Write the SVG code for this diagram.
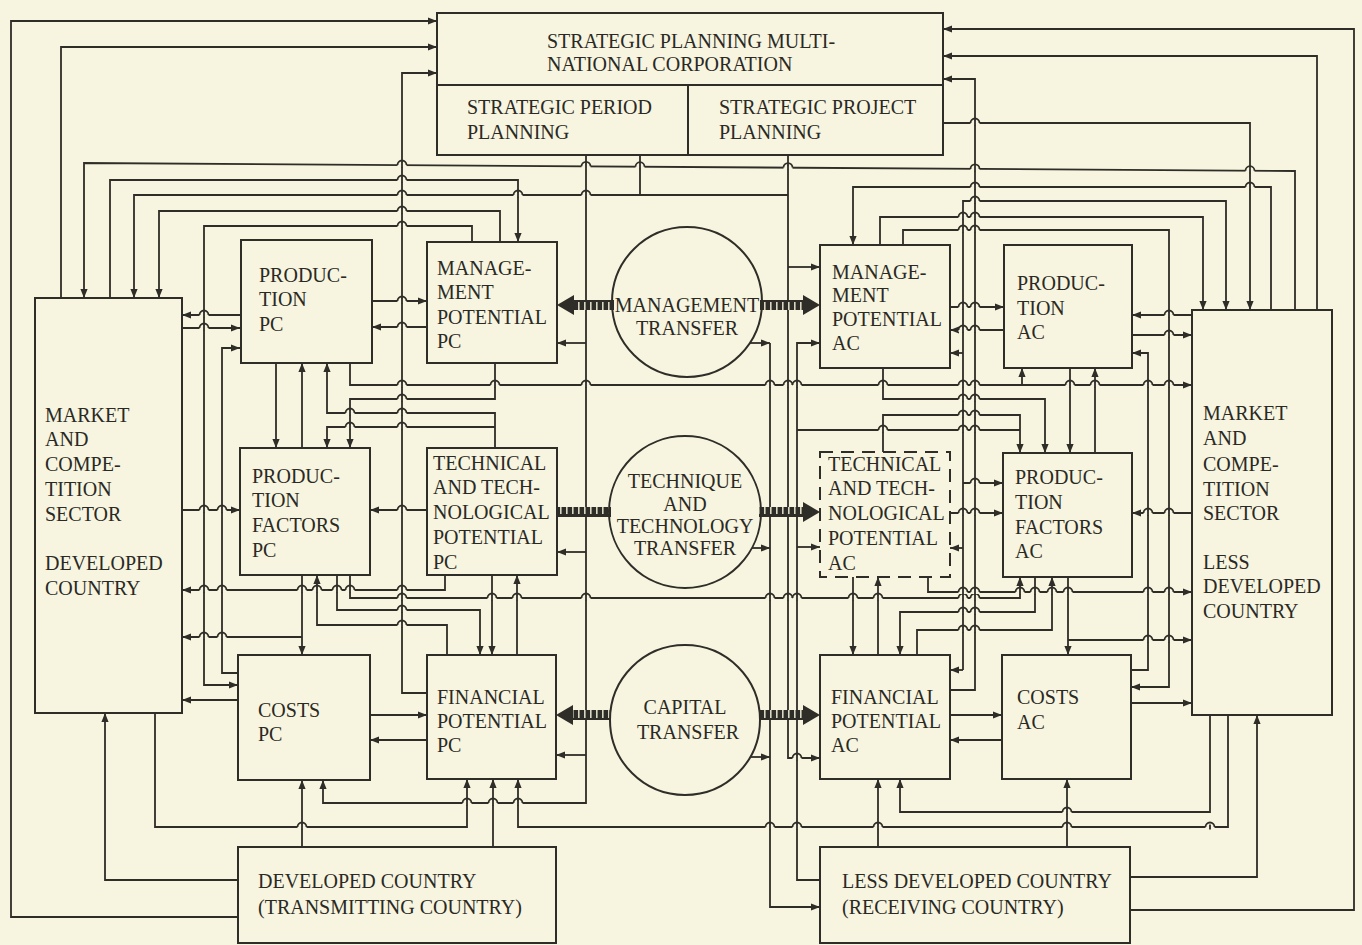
<svg xmlns="http://www.w3.org/2000/svg" width="1362" height="945" viewBox="0 0 1362 945">
<defs>
<style>
.bx{fill:none;stroke:#2e2d27;stroke-width:2}
.t{font-family:"Liberation Serif","Times New Roman",serif;font-size:20px;fill:#2a2924}
.tc{text-anchor:middle}
.c{fill:none;stroke:#2e2d27;stroke-width:1.8}
.a{marker-end:url(#ah)}
</style>
<marker id="ah" viewBox="0 0 10 10" refX="10" refY="5" markerWidth="9" markerHeight="9" markerUnits="userSpaceOnUse" orient="auto"><path d="M0,1 L10,5 L0,9 z" fill="#2e2d27"/></marker>
<pattern id="hatch" width="6" height="12" patternUnits="userSpaceOnUse"><rect width="6" height="12" fill="#2e2d27"/><rect x="2" y="2" width="1.6" height="8" fill="#d9d7c2"/></pattern>
<g id="hop"><rect x="-4.5" y="-2" width="9" height="4" fill="#f7f5e0"/><path d="M0,-2.5 V2.5 M-4.5,0 A4.5,4.5 0 0 1 4.5,0" fill="none" stroke="#2e2d27" stroke-width="1.8"/></g>
</defs>
<rect width="1362" height="945" fill="#f7f5e0"/>

<g id="connectors">
<!-- left half -->
<path class="c a" d="M238,917 H11 V21 H437"/>
<path class="c a" d="M61,298 V47 H437"/>
<path class="c a" d="M427,693 H402 V73 H437"/>
<path class="c a" d="M1295,310 V171 L84,163 V298"/>
<path class="c a" d="M110,298 V180 H518 V242"/>
<path class="c a" d="M640,155 V195 H134 V298"/>
<path class="c" d="M640,195 H788"/>
<path class="c a" d="M500,242 V211 H159 V298"/>
<path class="c a" d="M472,242 V226 H204 V685 H238"/>
<path class="c a" d="M240,315 H182"/>
<path class="c a" d="M182,328 H240"/>
<path class="c a" d="M238,673 H222 V348 H240"/>
<path class="c a" d="M372,301 H427"/>
<path class="c a" d="M427,327 H372"/>
<path class="c a" d="M276,363 V448"/>
<path class="c a" d="M302,448 V363"/>
<path class="c a" d="M495,448 V413 H327 V363"/>
<path class="c a" d="M495,427 H327 V448"/>
<path class="c a" d="M350,363 V385 H1192"/>
<path class="c a" d="M1022,385 V368"/>
<path class="c a" d="M495,363 V399 H350 V448"/>
<path class="c a" d="M182,510 H240"/>
<path class="c a" d="M427,510 H370"/>
<path class="c a" d="M302,575 V655"/>
<path class="c a" d="M302,637 H182"/>
<path class="c a" d="M337,575 V610 H480 V655"/>
<path class="c a" d="M447,655 V625 H317 V575"/>
<path class="c a" d="M350,575 V598 H1020 V577"/>
<path class="c a" d="M445,575 V590 H182"/>
<path class="c a" d="M492,575 V655"/>
<path class="c a" d="M517,655 V575"/>
<path class="c a" d="M370,715 H427"/>
<path class="c a" d="M427,740 H370"/>
<path class="c a" d="M238,700 H182"/>
<path class="c a" d="M155,713 V827 H467 V779"/>
<path class="c a" d="M302,847 V780"/>
<path class="c a" d="M586,155 V803 H323 V780"/>
<path class="c a" d="M586,343 H557"/>
<path class="c a" d="M586,552 H557"/>
<path class="c a" d="M586,755 H556"/>
<path class="c a" d="M493,847 V779"/>
<path class="c a" d="M1228,715 V827 H518 V779"/>
<path class="c a" d="M238,880 H105 V713"/>
<!-- right half -->
<path class="c a" d="M1130,910 H1354 V29 H943"/>
<path class="c a" d="M1317,310 V56 H943"/>
<path class="c a" d="M950,690 H975 V79 H943"/>
<path class="c a" d="M943,123 H1250 V310"/>
<path class="c a" d="M1271,310 V187 H853 V245"/>
<path class="c a" d="M963,670 V201 H1226 V310"/>
<path class="c a" d="M963,353 H950"/>
<path class="c a" d="M963,548 H950"/>
<path class="c a" d="M963,670 H950"/>
<path class="c a" d="M963,483 H1003"/>
<path class="c a" d="M880,245 V217 H1203 V310"/>
<path class="c a" d="M903,245 V230 H1169 V687 H1131"/>
<path class="c a" d="M788,155 V758 H820"/>
<path class="c a" d="M788,267 H820"/>
<path class="c a" d="M820,880 H797 V343 H820"/>
<path class="c a" d="M797,547 H820"/>
<path class="c a" d="M770,343 V907 H820"/>
<path class="c a" d="M750,343 H770"/>
<path class="c a" d="M752,548 H770"/>
<path class="c a" d="M750,757 H770"/>
<path class="c a" d="M950,307 H1004"/>
<path class="c a" d="M1004,330 H950"/>
<path class="c a" d="M1192,315 H1132"/>
<path class="c a" d="M1132,335 H1192"/>
<path class="c a" d="M1131,670 H1148 V353 H1132"/>
<path class="c a" d="M1070,368 V453"/>
<path class="c a" d="M1095,453 V368"/>
<path class="c a" d="M883,368 V399 H1045 V453"/>
<path class="c a" d="M883,452 V415 H1020 V453"/>
<path class="c" d="M797,430 H1020"/>
<path class="c a" d="M950,513 H1003"/>
<path class="c a" d="M1192,513 H1132"/>
<path class="c a" d="M928,577 V592 H1192"/>
<path class="c a" d="M1068,577 V655"/>
<path class="c a" d="M1068,640 H1192"/>
<path class="c a" d="M1035,577 V612 H900 V655"/>
<path class="c a" d="M917,655 V630 H1052 V577"/>
<path class="c a" d="M853,577 V655"/>
<path class="c a" d="M878,655 V577"/>
<path class="c a" d="M950,715 H1002"/>
<path class="c a" d="M1002,740 H950"/>
<path class="c a" d="M1131,703 H1192"/>
<path class="c a" d="M1067,847 V779"/>
<path class="c a" d="M878,847 V779"/>
<path class="c a" d="M1210,715 V812 H900 V779"/>
<path class="c a" d="M1130,877 H1257 V715"/>
<!-- line hops at crossings -->
<use href="#hop" x="402" y="165"/><use href="#hop" x="402" y="180"/><use href="#hop" x="402" y="195"/><use href="#hop" x="402" y="211"/><use href="#hop" x="402" y="226"/>
<use href="#hop" x="518" y="195"/><use href="#hop" x="586" y="195"/>
<use href="#hop" x="586" y="166.3"/><use href="#hop" x="640" y="166.7"/><use href="#hop" x="788" y="167.6"/><use href="#hop" x="975" y="168.9"/><use href="#hop" x="1250" y="170.7"/>
<use href="#hop" x="204" y="315"/><use href="#hop" x="204" y="328"/><use href="#hop" x="402" y="301"/><use href="#hop" x="402" y="327"/>
<use href="#hop" x="402" y="399"/><use href="#hop" x="350" y="413"/><use href="#hop" x="402" y="413"/><use href="#hop" x="350" y="427"/><use href="#hop" x="402" y="427"/>
<use href="#hop" x="204" y="510"/><use href="#hop" x="222" y="510"/><use href="#hop" x="402" y="510"/>
<use href="#hop" x="204" y="590"/><use href="#hop" x="222" y="590"/><use href="#hop" x="302" y="590"/><use href="#hop" x="317" y="590"/><use href="#hop" x="337" y="590"/><use href="#hop" x="350" y="590"/><use href="#hop" x="402" y="590"/>
<use href="#hop" x="402" y="598"/><use href="#hop" x="492" y="598"/><use href="#hop" x="517" y="598"/><use href="#hop" x="586" y="598"/><use href="#hop" x="770" y="598"/><use href="#hop" x="788" y="598"/><use href="#hop" x="797" y="598"/><use href="#hop" x="853" y="598"/><use href="#hop" x="878" y="598"/><use href="#hop" x="963" y="598"/><use href="#hop" x="975" y="598"/>
<use href="#hop" x="402" y="610"/><use href="#hop" x="402" y="625"/><use href="#hop" x="204" y="637"/><use href="#hop" x="222" y="637"/>
<use href="#hop" x="402" y="385"/><use href="#hop" x="495" y="385"/><use href="#hop" x="586" y="385"/><use href="#hop" x="770" y="385"/><use href="#hop" x="788" y="385"/><use href="#hop" x="797" y="385"/><use href="#hop" x="883" y="385"/><use href="#hop" x="963" y="385"/><use href="#hop" x="975" y="385"/><use href="#hop" x="1070" y="385"/><use href="#hop" x="1095" y="385"/><use href="#hop" x="1148" y="385"/><use href="#hop" x="1169" y="385"/>
<use href="#hop" x="467" y="803"/><use href="#hop" x="493" y="803"/><use href="#hop" x="518" y="803"/>
<use href="#hop" x="302" y="827"/><use href="#hop" x="770" y="827"/><use href="#hop" x="797" y="827"/><use href="#hop" x="878" y="827"/><use href="#hop" x="1067" y="827"/><use href="#hop" x="1210" y="827"/>
<use href="#hop" x="975" y="123"/><use href="#hop" x="975" y="187"/><use href="#hop" x="1250" y="187"/><use href="#hop" x="975" y="201"/>
<use href="#hop" x="963" y="217"/><use href="#hop" x="975" y="217"/><use href="#hop" x="963" y="230"/><use href="#hop" x="975" y="230"/>
<use href="#hop" x="963" y="307"/><use href="#hop" x="975" y="307"/><use href="#hop" x="1169" y="315"/><use href="#hop" x="963" y="330"/><use href="#hop" x="975" y="330"/><use href="#hop" x="1169" y="335"/>
<use href="#hop" x="963" y="399"/><use href="#hop" x="975" y="399"/><use href="#hop" x="963" y="415"/><use href="#hop" x="975" y="415"/><use href="#hop" x="883" y="430"/><use href="#hop" x="963" y="430"/><use href="#hop" x="975" y="430"/>
<use href="#hop" x="975" y="483"/><use href="#hop" x="963" y="513"/><use href="#hop" x="975" y="513"/><use href="#hop" x="1148" y="513"/><use href="#hop" x="1169" y="513"/>
<use href="#hop" x="963" y="592"/><use href="#hop" x="975" y="592"/><use href="#hop" x="1020" y="592"/><use href="#hop" x="1035" y="592"/><use href="#hop" x="1052" y="592"/><use href="#hop" x="1068" y="592"/><use href="#hop" x="1148" y="592"/><use href="#hop" x="1169" y="592"/>
<use href="#hop" x="963" y="612"/><use href="#hop" x="975" y="612"/><use href="#hop" x="963" y="630"/><use href="#hop" x="975" y="630"/><use href="#hop" x="1148" y="640"/><use href="#hop" x="1169" y="640"/>
<use href="#hop" x="797" y="758"/><use href="#hop" x="1067" y="812"/>
<!-- transfer arrows (hatched) -->
<rect x="572" y="300" width="42" height="10" fill="url(#hatch)"/>
<polygon points="557,305 574,295 574,315" fill="#2e2d27"/>
<rect x="760" y="300" width="44" height="10" fill="url(#hatch)"/>
<polygon points="820,305 803,295 803,315" fill="#2e2d27"/>
<rect x="557" y="507" width="54" height="10" fill="url(#hatch)"/>
<rect x="759" y="507" width="45" height="10" fill="url(#hatch)"/>
<polygon points="820,512 803,502 803,522" fill="#2e2d27"/>
<rect x="571" y="710" width="40" height="10" fill="url(#hatch)"/>
<polygon points="556,715 573,705 573,725" fill="#2e2d27"/>
<rect x="759" y="710" width="45" height="10" fill="url(#hatch)"/>
<polygon points="820,715 803,705 803,725" fill="#2e2d27"/>
</g>

<g id="strategic-planning">
<rect class="bx" x="437" y="13" width="506" height="142"/>
<line class="bx" x1="437" y1="85" x2="943" y2="85"/>
<line class="bx" x1="688" y1="85" x2="688" y2="155"/>
<text class="t" x="547" y="48">STRATEGIC PLANNING MULTI-</text>
<text class="t" x="547" y="71">NATIONAL CORPORATION</text>
<text class="t" x="467" y="114">STRATEGIC PERIOD</text>
<text class="t" x="467" y="139">PLANNING</text>
<text class="t" x="719" y="114">STRATEGIC PROJECT</text>
<text class="t" x="719" y="139">PLANNING</text>
</g>

<g id="market-dc">
<rect class="bx" x="35" y="298" width="147" height="415"/>
<text class="t" x="45" y="422">MARKET</text>
<text class="t" x="45" y="446">AND</text>
<text class="t" x="45" y="471">COMPE-</text>
<text class="t" x="45" y="496">TITION</text>
<text class="t" x="45" y="521">SECTOR</text>
<text class="t" x="45" y="570">DEVELOPED</text>
<text class="t" x="45" y="595">COUNTRY</text>
</g>

<g id="production-pc">
<rect class="bx" x="241" y="240" width="131" height="123"/>
<text class="t" x="259" y="282">PRODUC-</text>
<text class="t" x="259" y="306">TION</text>
<text class="t" x="259" y="331">PC</text>
</g>

<g id="management-pc">
<rect class="bx" x="427" y="242" width="130" height="121"/>
<text class="t" x="437" y="275">MANAGE-</text>
<text class="t" x="437" y="299">MENT</text>
<text class="t" x="437" y="324">POTENTIAL</text>
<text class="t" x="437" y="348">PC</text>
</g>

<g id="management-transfer">
<circle class="bx" cx="687" cy="302" r="75"/>
<text class="t tc" x="687" y="312">MANAGEMENT</text>
<text class="t tc" x="687" y="335">TRANSFER</text>
</g>

<g id="management-ac">
<rect class="bx" x="820" y="245" width="130" height="123"/>
<text class="t" x="832" y="279">MANAGE-</text>
<text class="t" x="832" y="302">MENT</text>
<text class="t" x="832" y="326">POTENTIAL</text>
<text class="t" x="832" y="350">AC</text>
</g>

<g id="production-ac">
<rect class="bx" x="1004" y="245" width="128" height="123"/>
<text class="t" x="1017" y="290">PRODUC-</text>
<text class="t" x="1017" y="315">TION</text>
<text class="t" x="1017" y="339">AC</text>
</g>

<g id="market-ldc">
<rect class="bx" x="1192" y="310" width="140" height="405"/>
<text class="t" x="1203" y="420">MARKET</text>
<text class="t" x="1203" y="445">AND</text>
<text class="t" x="1203" y="471">COMPE-</text>
<text class="t" x="1203" y="496">TITION</text>
<text class="t" x="1203" y="520">SECTOR</text>
<text class="t" x="1203" y="569">LESS</text>
<text class="t" x="1203" y="593">DEVELOPED</text>
<text class="t" x="1203" y="618">COUNTRY</text>
</g>

<g id="production-factors-pc">
<rect class="bx" x="240" y="448" width="130" height="127"/>
<text class="t" x="252" y="483">PRODUC-</text>
<text class="t" x="252" y="507">TION</text>
<text class="t" x="252" y="532">FACTORS</text>
<text class="t" x="252" y="557">PC</text>
</g>

<g id="technical-pc">
<rect class="bx" x="427" y="448" width="130" height="127"/>
<text class="t" x="433" y="470">TECHNICAL</text>
<text class="t" x="433" y="494">AND TECH-</text>
<text class="t" x="433" y="519">NOLOGICAL</text>
<text class="t" x="433" y="544">POTENTIAL</text>
<text class="t" x="433" y="569">PC</text>
</g>

<g id="technique-transfer">
<circle class="bx" cx="685" cy="512" r="76"/>
<text class="t tc" x="685" y="488">TECHNIQUE</text>
<text class="t tc" x="685" y="511">AND</text>
<text class="t tc" x="685" y="533">TECHNOLOGY</text>
<text class="t tc" x="685" y="555">TRANSFER</text>
</g>

<g id="technical-ac">
<rect class="bx" x="820" y="452" width="130" height="125" stroke-dasharray="13,8"/>
<text class="t" x="828" y="471">TECHNICAL</text>
<text class="t" x="828" y="495">AND TECH-</text>
<text class="t" x="828" y="520">NOLOGICAL</text>
<text class="t" x="828" y="545">POTENTIAL</text>
<text class="t" x="828" y="570">AC</text>
</g>

<g id="production-factors-ac">
<rect class="bx" x="1003" y="453" width="129" height="124"/>
<text class="t" x="1015" y="484">PRODUC-</text>
<text class="t" x="1015" y="509">TION</text>
<text class="t" x="1015" y="534">FACTORS</text>
<text class="t" x="1015" y="558">AC</text>
</g>

<g id="costs-pc">
<rect class="bx" x="238" y="655" width="132" height="125"/>
<text class="t" x="258" y="717">COSTS</text>
<text class="t" x="258" y="741">PC</text>
</g>

<g id="financial-pc">
<rect class="bx" x="427" y="655" width="129" height="124"/>
<text class="t" x="437" y="704">FINANCIAL</text>
<text class="t" x="437" y="728">POTENTIAL</text>
<text class="t" x="437" y="752">PC</text>
</g>

<g id="capital-transfer">
<circle class="bx" cx="685" cy="720" r="75"/>
<text class="t tc" x="685" y="714">CAPITAL</text>
<text class="t tc" x="688" y="739">TRANSFER</text>
</g>

<g id="financial-ac">
<rect class="bx" x="820" y="655" width="130" height="124"/>
<text class="t" x="831" y="704">FINANCIAL</text>
<text class="t" x="831" y="728">POTENTIAL</text>
<text class="t" x="831" y="752">AC</text>
</g>

<g id="costs-ac">
<rect class="bx" x="1002" y="655" width="129" height="124"/>
<text class="t" x="1017" y="704">COSTS</text>
<text class="t" x="1017" y="729">AC</text>
</g>

<g id="developed-country">
<rect class="bx" x="238" y="847" width="318" height="96"/>
<text class="t" x="258" y="888">DEVELOPED COUNTRY</text>
<text class="t" x="258" y="914">(TRANSMITTING COUNTRY)</text>
</g>

<g id="less-developed-country">
<rect class="bx" x="820" y="847" width="310" height="96"/>
<text class="t" x="842" y="888">LESS DEVELOPED COUNTRY</text>
<text class="t" x="842" y="914">(RECEIVING COUNTRY)</text>
</g>
</svg>
